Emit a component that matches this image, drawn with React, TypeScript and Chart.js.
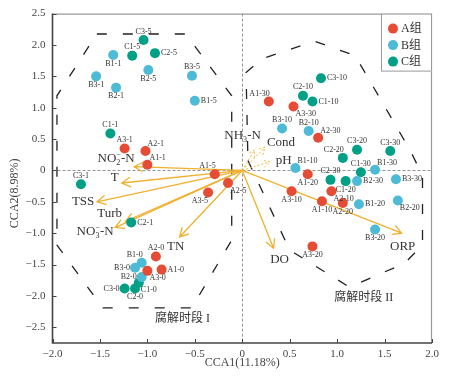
import { useEffect, useRef } from 'react';
import { Chart, registerables } from 'chart.js';
Chart.register(...registerables);

// ---------- data ----------
const groupNames = ['A组', 'B组', 'C组'];
const groupColors = ['#E64B35', '#4DBBD5', '#00A087'];

const aNames = ['A1-0', 'A2-0', 'A3-0', 'A1-1', 'A2-1', 'A3-1', 'A1-5', 'A2-5', 'A3-5', 'A1-10', 'A2-10', 'A3-10', 'A1-20', 'A2-20', 'A3-20', 'A1-30', 'A2-30', 'A3-30'];
const aX = [-0.85, -0.91, -1.0, -1.0, -1.02, -1.24, -0.29, -0.15, -0.36, 0.84, 0.94, 0.52, 0.69, 1.06, 0.74, 0.28, 0.8, 0.54];
const aY = [-1.58, -1.37, -1.6, 0.09, 0.31, 0.35, -0.06, -0.2, -0.35, -0.49, -0.33, -0.33, -0.06, -0.52, -1.21, 1.1, 0.52, 1.02];
const aPos = ['r', 't', 'br', 'tr', 'tr', 't', 'tl', 'br', 'bl', 'b', 'br', 'b', 'b', 'b', 'b', 'tl', 'tr', 'br'];

const bNames = ['B1-0', 'B2-0', 'B3-0', 'B1-1', 'B2-1', 'B3-1', 'B1-5', 'B2-5', 'B3-5', 'B1-10', 'B2-10', 'B3-10', 'B1-20', 'B2-20', 'B3-20', 'B1-30', 'B2-30', 'B3-30'];
const bX = [-1.06, -1.06, -1.13, -1.36, -1.33, -1.54, -0.5, -0.99, -0.53, 0.56, 0.7, 0.42, 1.23, 1.64, 1.4, 1.4, 1.21, 1.62];
const bY = [-1.47, -1.7, -1.55, 1.84, 1.32, 1.5, 1.11, 1.6, 1.51, 0.04, 0.63, 0.67, -0.54, -0.48, -0.94, 0.01, -0.17, -0.14];
const bPos = ['tl', 'l', 'l', 'b', 'b', 'b', 'r', 'b', 't', 'tr', 't', 't', 'r', 'br', 'b', 'tr', 'r', 'r'];

const cNames = ['C1-0', 'C2-0', 'C3-0', 'C1-1', 'C2-1', 'C3-1', 'C1-5', 'C2-5', 'C3-5', 'C1-10', 'C2-10', 'C3-10', 'C1-20', 'C2-20', 'C3-20', 'C1-30', 'C2-30', 'C3-30'];
const cX = [-1.09, -1.13, -1.24, -1.39, -1.17, -1.7, -1.16, -0.92, -1.04, 0.74, 0.64, 0.83, 1.09, 1.06, 1.21, 1.25, 0.93, 1.56];
const cY = [-1.79, -1.88, -1.88, 0.59, -0.83, -0.22, 1.83, 1.87, 2.08, 1.1, 1.19, 1.47, -0.17, 0.2, 0.33, -0.03, -0.15, 0.31];
const cPos = ['br', 'b', 'l', 't', 'r', 't', 't', 'r', 't', 'r', 't', 'r', 'b', 'tl', 't', 't', 't', 't'];

// environmental vectors (solid)
const envNames = ['NO2-N', 'T', 'TSS', 'Turb', 'NO3-N', 'TN', 'DO', 'ORP'];
const envX = [-1.14, -1.27, -1.53, -1.23, -1.34, -0.66, 0.33, 1.68];
const envY = [0.06, -0.2, -0.5, -0.81, -0.91, -1.06, -1.24, -1.0];
// environmental vectors (dashed, short)
const envMinorNames = ['NH3-N', 'Cond', 'pH'];
const envMinorX = [0.13, 0.24, 0.29];
const envMinorY = [0.33, 0.37, 0.14];

// hull outlines of the two decomposition stages
const stage1X = [-1.533, -0.595, -0.111, -0.111, -0.532, -1.47, -1.953, -1.953];
const stage1Y = [2.175, 2.175, 1.19, -1.11, -2.19, -2.19, -1.19, 1.19];
const stage2X = [0.06, 0.5, 1.13, 1.71, 1.9, 1.9, 1.77, 1.19, 0.76, 0.21, 0.04];
const stage2Y = [0.16, -1.27, -1.86, -1.48, -1.19, -0.08, 0.32, 1.83, 2.06, 1.78, 1.56];
const stageNames = ['腐解时段 I', '腐解时段 II'];
const stageLabelX = [-0.63, 1.28];
const stageLabelY = [-2.37, -2.03];

const xTicks = [-2, -1.5, -1, -0.5, 0, 0.5, 1, 1.5, 2];
const yTicks = [2.5, 2, 1.5, 1, 0.5, 0, -0.5, -1, -1.5, -2, -2.5];
const xTitle = 'CCA1(11.18%)';
const yTitle = 'CCA2(8.98%)';

// ---------- styling ----------
const SERIF = "'Liberation Serif', 'Noto Sans CJK SC', serif";
const ARROW = '#EFB02E';
const ARROW_LIGHT = '#F0B940';
const envLabelOffset: Record<string, [number, number]> = {
  'NO2-N': [-18, -8], T: [-7, -5], TSS: [-14, 0], Turb: [-16, -8], 'NO3-N': [-20, 4],
  TN: [-4, 10], DO: [6, 11], ORP: [1, 13], 'NH3-N': [-12, -14], Cond: [16, -5], pH: [14, -1],
};
const richLabels: Record<string, any[]> = {
  'NO2-N': [['NO', 'n'], ['2', 'sub', '−'], ['-N', 'n']],
  'NO3-N': [['NO', 'n'], ['3', 'sub', '−'], ['-N', 'n']],
  'NH3-N': [['NH', 'n'], ['3', 'sub'], ['-N', 'n']],
};

function fmt(v: number) {
  if (v === 0) return '0';
  return (v < 0 ? '−' : '') + Math.abs(v).toFixed(1);
}

function drawRich(ctx: CanvasRenderingContext2D, name: string, cx: number, cy: number, size: number) {
  const parts = richLabels[name] || [[name, 'n']];
  const small = size * 0.62;
  const widths = parts.map((p: any) => {
    ctx.font = `${p[1] === 'n' ? size : small}px ${SERIF}`;
    let w = ctx.measureText(p[0]).width;
    if (p[2]) w = Math.max(w, ctx.measureText(p[2]).width);
    return w;
  });
  const total = widths.reduce((a: number, b: number) => a + b, 0);
  let x = cx - total / 2;
  ctx.textAlign = 'left';
  ctx.textBaseline = 'middle';
  parts.forEach((p: any, i: number) => {
    if (p[1] === 'n') {
      ctx.font = `${size}px ${SERIF}`;
      ctx.fillText(p[0], x, cy);
    } else {
      ctx.font = `${small}px ${SERIF}`;
      ctx.fillText(p[0], x, cy + size * 0.35);
      if (p[2]) ctx.fillText(p[2], x, cy - size * 0.3);
    }
    x += widths[i];
  });
}

function drawArrow(ctx: CanvasRenderingContext2D, x0: number, y0: number, x1: number, y1: number, L: number) {
  const ang = Math.atan2(y1 - y0, x1 - x0);
  const a = 0.5;
  ctx.beginPath();
  ctx.moveTo(x0, y0);
  ctx.lineTo(x1, y1);
  ctx.moveTo(x1 - L * Math.cos(ang - a), y1 - L * Math.sin(ang - a));
  ctx.lineTo(x1, y1);
  ctx.lineTo(x1 - L * Math.cos(ang + a), y1 - L * Math.sin(ang + a));
  ctx.stroke();
}

const overlay = {
  id: 'overlay',
  beforeDatasetsDraw(chart: any) {
    const { ctx, chartArea: ca, scales } = chart;
    const px = (v: number) => scales.x.getPixelForValue(v);
    const py = (v: number) => scales.y.getPixelForValue(v);
    ctx.save();
    // zero lines
    ctx.strokeStyle = '#777';
    ctx.lineWidth = 0.8;
    ctx.setLineDash([3, 2]);
    ctx.beginPath();
    ctx.moveTo(Math.round(px(0)) + 0.5, ca.top);
    ctx.lineTo(Math.round(px(0)) + 0.5, ca.bottom);
    ctx.moveTo(ca.left, Math.round(py(0)) + 0.5);
    ctx.lineTo(ca.right, Math.round(py(0)) + 0.5);
    ctx.stroke();
    // stage outlines
    ctx.setLineDash([10, 16]);
    ctx.strokeStyle = '#222';
    ctx.lineWidth = 1.3;
    [[stage1X, stage1Y], [stage2X, stage2Y]].forEach(([xs, ys]) => {
      ctx.beginPath();
      xs.forEach((v: number, i: number) => {
        if (i === 0) ctx.moveTo(px(v), py(ys[i]));
        else ctx.lineTo(px(v), py(ys[i]));
      });
      ctx.closePath();
      ctx.stroke();
    });
    // arrows
    const ox = px(0), oy = py(0);
    ctx.setLineDash([]);
    ctx.strokeStyle = ARROW;
    ctx.lineWidth = 1.3;
    envNames.forEach((_, i) => drawArrow(ctx, ox, oy, px(envX[i]), py(envY[i]), 10));
    ctx.setLineDash([2, 2]);
    ctx.strokeStyle = ARROW_LIGHT;
    ctx.lineWidth = 1;
    envMinorNames.forEach((_, i) => drawArrow(ctx, ox, oy, px(envMinorX[i]), py(envMinorY[i]), 8));
    ctx.restore();
  },
  afterDatasetsDraw(chart: any) {
    const { ctx, chartArea: ca, scales } = chart;
    const px = (v: number) => scales.x.getPixelForValue(v);
    const py = (v: number) => scales.y.getPixelForValue(v);
    ctx.save();
    // point labels
    const groups = [[aNames, aPos], [bNames, bPos], [cNames, cPos]];
    ctx.fillStyle = '#333';
    ctx.font = `8px ${SERIF}`;
    ctx.textBaseline = 'middle';
    groups.forEach(([names, pos], di) => {
      const meta = chart.getDatasetMeta(di);
      meta.data.forEach((el: any, i: number) => {
        const x = el.x, y = el.y;
        const p = pos[i];
        let tx = x, ty = y, al: CanvasTextAlign = 'center';
        if (p === 't') { ty = y - 8.5; }
        else if (p === 'b') { ty = y + 8.5; }
        else if (p === 'r') { tx = x + 6; al = 'left'; }
        else if (p === 'l') { tx = x - 5; al = 'right'; }
        else if (p === 'tr') { tx = x + 2; ty = y - 7; al = 'left'; }
        else if (p === 'tl') { tx = x + 1; ty = y - 8; al = 'right'; }
        else if (p === 'br') { tx = x + 2; ty = y + 7.5; al = 'left'; }
        else if (p === 'bl') { tx = x; ty = y + 8; al = 'right'; }
        ctx.textAlign = al;
        ctx.fillText(names[i], tx, ty);
      });
    });
    // env labels
    ctx.fillStyle = '#333';
    envNames.forEach((n, i) => {
      const o = envLabelOffset[n];
      drawRich(ctx, n, px(envX[i]) + o[0], py(envY[i]) + o[1], 13);
    });
    envMinorNames.forEach((n, i) => {
      const o = envLabelOffset[n];
      drawRich(ctx, n, px(envMinorX[i]) + o[0], py(envMinorY[i]) + o[1], 13);
    });
    // stage labels
    ctx.font = `12px ${SERIF}`;
    ctx.textAlign = 'center';
    ctx.textBaseline = 'middle';
    ctx.fillStyle = '#333';
    stageNames.forEach((n, i) => ctx.fillText(n, px(stageLabelX[i]), py(stageLabelY[i])));
    // frame
    ctx.setLineDash([]);
    ctx.strokeStyle = '#999';
    ctx.lineWidth = 1.2;
    ctx.beginPath();
    ctx.moveTo(ca.left, ca.top + 0.5);
    ctx.lineTo(ca.right - 0.5, ca.top + 0.5);
    ctx.lineTo(ca.right - 0.5, ca.bottom);
    ctx.stroke();
    ctx.strokeStyle = '#444';
    ctx.lineWidth = 1.6;
    ctx.beginPath();
    ctx.moveTo(ca.left, ca.top);
    ctx.lineTo(ca.left, ca.bottom);
    ctx.lineTo(ca.right, ca.bottom);
    ctx.stroke();
    // inward ticks
    ctx.lineWidth = 1;
    ctx.beginPath();
    xTicks.forEach(v => { const x = Math.round(px(v)) + 0.5; ctx.moveTo(x, ca.bottom); ctx.lineTo(x, ca.bottom - 4); });
    yTicks.forEach(v => { const y = Math.round(py(v)) + 0.5; ctx.moveTo(ca.left, y); ctx.lineTo(ca.left + 4, y); });
    ctx.stroke();
    // titles
    ctx.fillStyle = '#444';
    ctx.font = `12px ${SERIF}`;
    ctx.textAlign = 'center';
    ctx.textBaseline = 'middle';
    ctx.fillText(xTitle, (ca.left + ca.right) / 2, ca.bottom + 20);
    ctx.save();
    ctx.translate(15, (ca.top + ca.bottom) / 2 + 15);
    ctx.rotate(-Math.PI / 2);
    ctx.fillText(yTitle, 0, 0);
    ctx.restore();
    // legend
    const lx = ca.right - 51, ly = ca.top;
    ctx.fillStyle = '#fff';
    ctx.fillRect(lx, ly, 51, 58);
    ctx.strokeStyle = '#999';
    ctx.lineWidth = 1;
    ctx.strokeRect(lx + 0.5, ly + 0.5, 50, 57);
    groupNames.forEach((n, i) => {
      const cy = ly + 15 + i * 16.5;
      ctx.fillStyle = groupColors[i];
      ctx.beginPath();
      ctx.arc(lx + 12, cy, 5, 0, Math.PI * 2);
      ctx.fill();
      ctx.fillStyle = '#333';
      ctx.font = `12px ${SERIF}`;
      ctx.textAlign = 'left';
      ctx.fillText(n, lx + 20, cy + 0.5);
    });
    ctx.restore();
  },
};

export default function App() {
  const ref = useRef<HTMLCanvasElement>(null);
  useEffect(() => {
    if (!ref.current) return;
    const mk = (xs: number[], ys: number[]) => xs.map((x, i) => ({ x, y: ys[i] }));
    const chart = new Chart(ref.current, {
      type: 'scatter',
      data: {
        datasets: [
          { label: groupNames[0], data: mk(aX, aY), backgroundColor: groupColors[0], borderWidth: 0, pointRadius: 5 },
          { label: groupNames[1], data: mk(bX, bY), backgroundColor: groupColors[1], borderWidth: 0, pointRadius: 5 },
          { label: groupNames[2], data: mk(cX, cY), backgroundColor: groupColors[2], borderWidth: 0, pointRadius: 5 },
        ],
      },
      options: {
        animation: false,
        responsive: false,
        devicePixelRatio: 1,
        layout: { padding: { left: 0, top: 12, right: 19, bottom: 0 } },
        plugins: { legend: { display: false }, tooltip: { enabled: false } },
        scales: {
          x: {
            type: 'linear', min: -2, max: 2,
            afterBuildTicks: (s: any) => { s.ticks = xTicks.map(v => ({ value: v })); },
            afterFit: (s: any) => { s.height = 38; },
            grid: { display: false, drawTicks: false },
            border: { display: false },
            ticks: { callback: (v: any) => fmt(Number(v)), font: { family: SERIF, size: 11 }, color: '#444', padding: 5, maxRotation: 0 },
          },
          y: {
            type: 'linear', min: -2.75, max: 2.5,
            afterBuildTicks: (s: any) => { s.ticks = yTicks.map(v => ({ value: v })); },
            afterFit: (s: any) => { s.width = 52.5; },
            grid: { display: false, drawTicks: false },
            border: { display: false },
            ticks: { callback: (v: any) => fmt(Number(v)), font: { family: SERIF, size: 11 }, color: '#444', padding: 7 },
          },
        },
      },
      plugins: [overlay],
    });
    return () => chart.destroy();
  }, []);
  return (
    <div style={{ position: 'absolute', left: 0, top: 0, width: 451, height: 381, background: '#fff' }}>
      <canvas ref={ref} width={451} height={381} />
    </div>
  );
}
